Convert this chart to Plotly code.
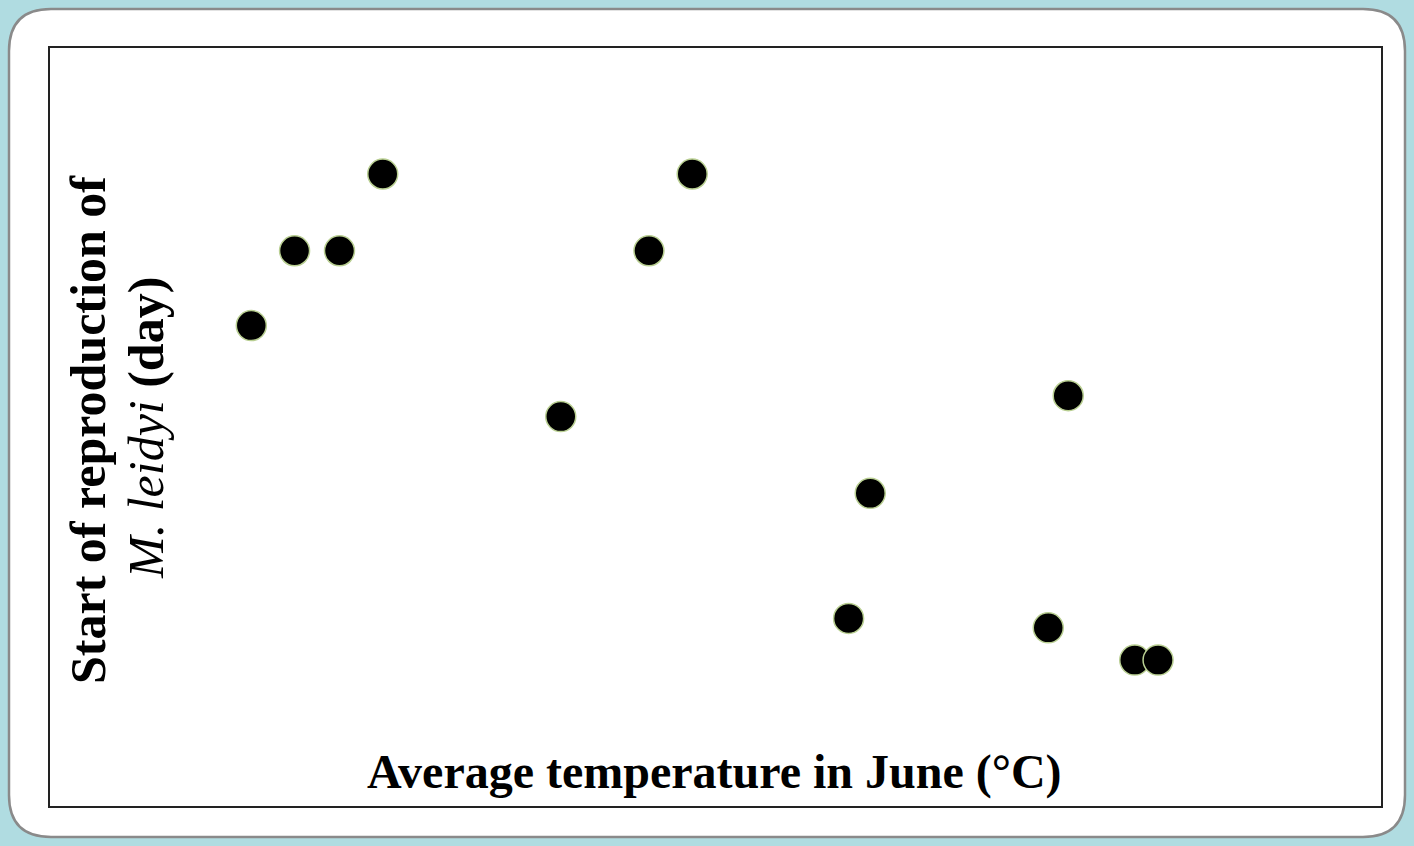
import plotly.graph_objects as go

# Average June temperature (°C) and day of year when M. leidyi starts reproducing
temperature_c = [19.21, 19.47, 19.74, 20.00, 21.07, 21.60, 21.86,
                 22.80, 22.93, 24.00, 24.12, 24.52, 24.66]
start_day = [190.7, 198.6, 198.6, 206.7, 181.1, 198.6, 206.7,
             159.8, 173.0, 158.8, 183.3, 155.4, 155.4]

x_range = [18, 26]
y_range = [140, 220]

W, H = 1414, 846
M_L, M_R, M_T, M_B = 50, 33, 48, 40
PW, PH = W - M_L - M_R, H - M_T - M_B


def px_x(p):
    return (p - M_L) / PW


def px_y(p):
    return 1 - (p - M_T) / PH


fig = go.Figure()
fig.add_trace(go.Scatter(
    x=temperature_c, y=start_day, mode="markers",
    marker=dict(size=30, color="black", line=dict(color="#b9cf92", width=1.5)),
    hoverinfo="skip", showlegend=False,
))

# rounded white panel behind the chart
x0, x1, y0, y1, r = 9, 1405, 9, 837, 42
path = (
    f"M {px_x(x0 + r)} {px_y(y0)} L {px_x(x1 - r)} {px_y(y0)} "
    f"Q {px_x(x1)} {px_y(y0)} {px_x(x1)} {px_y(y0 + r)} "
    f"L {px_x(x1)} {px_y(y1 - r)} "
    f"Q {px_x(x1)} {px_y(y1)} {px_x(x1 - r)} {px_y(y1)} "
    f"L {px_x(x0 + r)} {px_y(y1)} "
    f"Q {px_x(x0)} {px_y(y1)} {px_x(x0)} {px_y(y1 - r)} "
    f"L {px_x(x0)} {px_y(y0 + r)} "
    f"Q {px_x(x0)} {px_y(y0)} {px_x(x0 + r)} {px_y(y0)} Z"
)
fig.add_shape(type="path", path=path, xref="paper", yref="paper",
              fillcolor="white", line=dict(color="#8a8a8a", width=2.5),
              layer="below")

serif = "Liberation Serif, Times New Roman, serif"

fig.add_annotation(
    text="<b>Average temperature in June (°C)</b>",
    x=px_x(714), y=px_y(772), xref="paper", yref="paper",
    showarrow=False, font=dict(family=serif, size=48, color="black"),
    xanchor="center", yanchor="middle",
)
fig.add_annotation(
    text="<b>Start of reproduction of</b>",
    x=px_x(88), y=px_y(430), xref="paper", yref="paper",
    showarrow=False, font=dict(family=serif, size=50, color="black"),
    textangle=-90, xanchor="center", yanchor="middle",
)
fig.add_annotation(
    text="<i>M. leidyi</i> <b>(day)</b>",
    x=px_x(146), y=px_y(428), xref="paper", yref="paper",
    showarrow=False, font=dict(family=serif, size=50, color="black"),
    textangle=-90, xanchor="center", yanchor="middle",
)

axis_common = dict(showgrid=False, zeroline=False, showticklabels=False,
                   ticks="", showline=True, mirror=True,
                   linecolor="#222222", linewidth=2)

fig.update_layout(
    width=W, height=H,
    margin=dict(l=M_L, r=M_R, t=M_T, b=M_B),
    paper_bgcolor="#b0dce1",
    plot_bgcolor="rgba(0,0,0,0)",
    xaxis=dict(range=x_range, **axis_common),
    yaxis=dict(range=y_range, **axis_common),
)

fig.write_html("out.html")
